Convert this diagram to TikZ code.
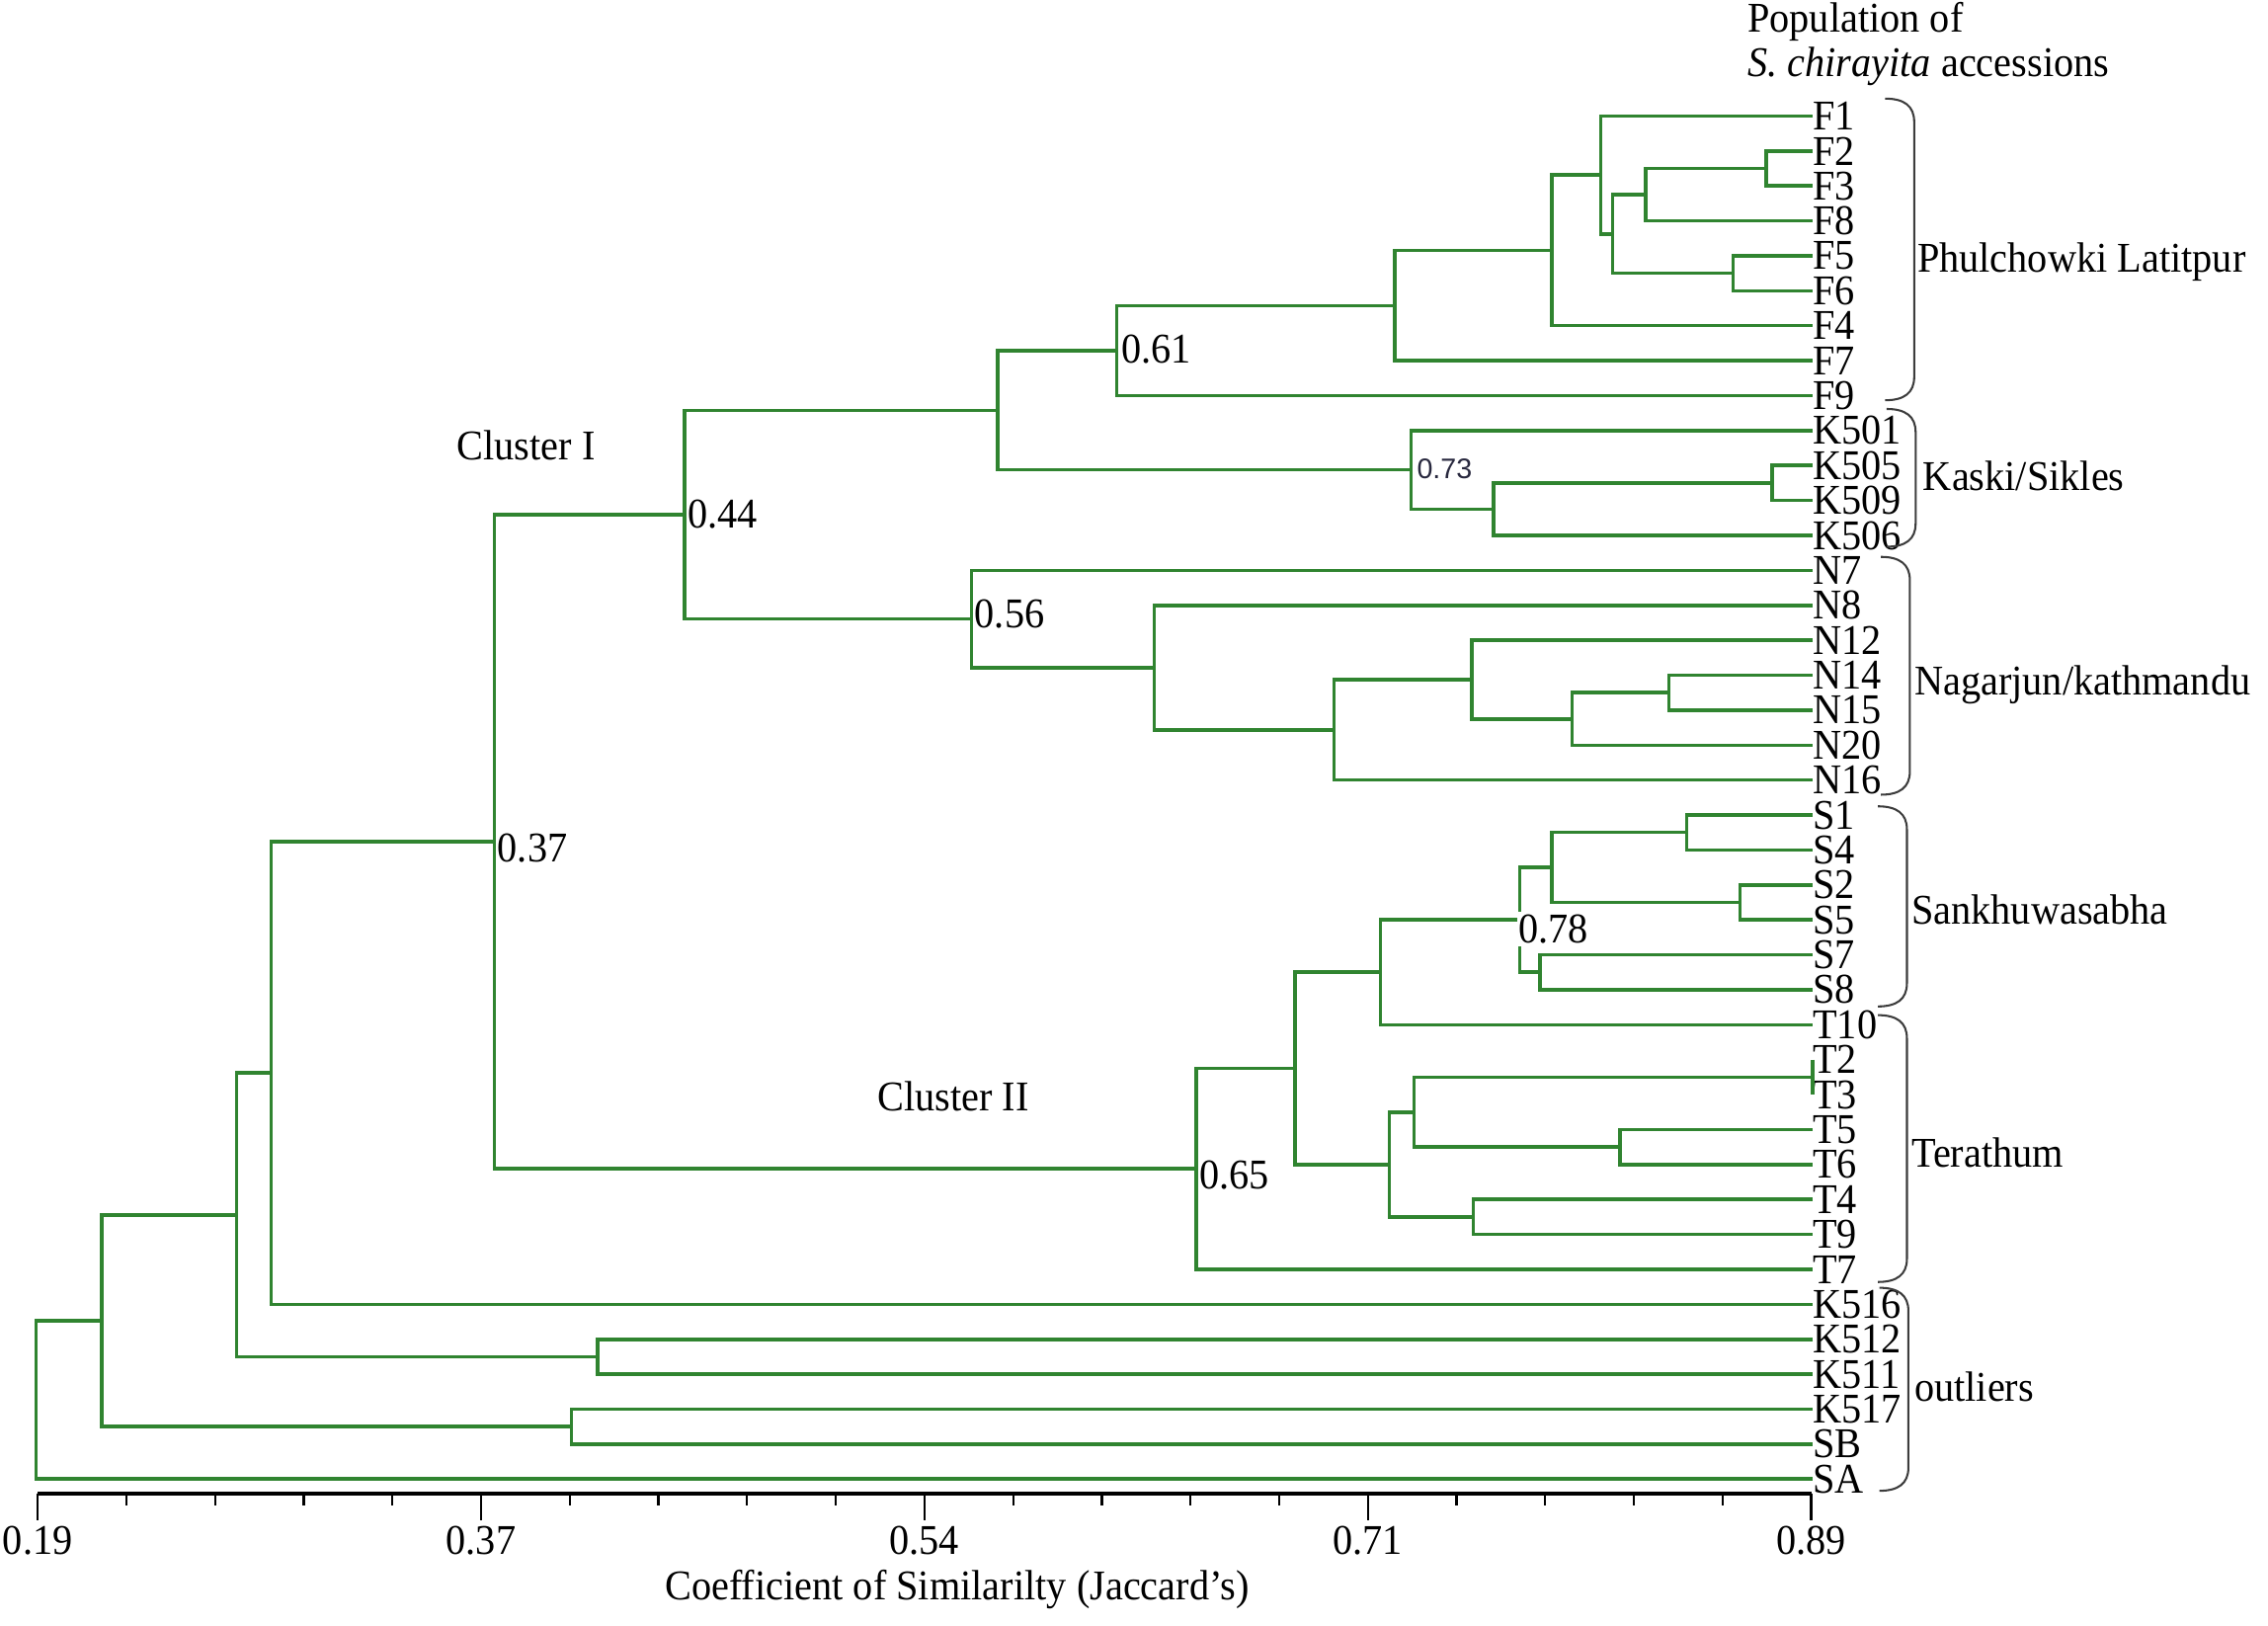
\documentclass[tikz,border=0pt]{standalone}
\usepackage{fontspec}
\setmainfont{Liberation Serif}[FakeStretch=0.94]
\newfontfamily\sansnum{Liberation Sans}
\definecolor{treegreen}{RGB}{48,132,48}
\definecolor{brkgray}{RGB}{60,60,60}
\definecolor{numc}{RGB}{40,40,62}
\newcommand\grpbrace[3]{%
  \draw[bracketline] (#1-20,#2) .. controls (#1-7,#2) and (#1,#2+5) .. (#1,#2+16)
    -- (#1,#3-16) .. controls (#1,#3-5) and (#1-7,#3) .. (#1-20,#3);}
\begin{document}
\begin{tikzpicture}[x=1pt,y=-1pt,
  branch/.style={draw=treegreen, line width=2.4pt},
  bracketline/.style={draw=brkgray, line width=1.4pt},
  lbl/.style={inner sep=0pt, font=\fontsize{29.2}{32}\selectfont},
  leaf/.style={lbl, anchor=west},
  val/.style={lbl, anchor=base west},
  axisline/.style={draw=black, line width=2.4pt},
  tickline/.style={draw=black, line width=1.5pt}]
\useasboundingbox (0,0) rectangle (1564,1121);

% leaves
\foreach \n [count=\i from 0] in {F1,F2,F3,F8,F5,F6,F4,F7,F9,K501,K505,K509,K506,N7,N8,N12,N14,N15,N20,N16,S1,S4,S2,S5,S7,S8,T10,T2,T3,T5,T6,T4,T9,T7,K516,K512,K511,K517,SB,SA}
  \node[leaf] (\n) at (1250,{80+24.1*\i}) {\n};

% internal nodes
\coordinate (jF23) at (1218,116.15);
\coordinate (jF238) at (1135,134.23);
\coordinate (jF56) at (1195,188.45);
\coordinate (jFa) at (1112,161.34);
\coordinate (jFb) at (1104,120.67);
\coordinate (jFc) at (1070,172.64);
\coordinate (jFd) at (962,210.67);
\coordinate (jFe) at (770,241.73);
\coordinate (jK59) at (1222,333.05);
\coordinate (jK596) at (1030,351.13);
\coordinate (jK73) at (973,324.01);
\coordinate (jFK) at (688,282.87);
\coordinate (jN1415) at (1151,477.65);
\coordinate (jN20) at (1084,495.73);
\coordinate (jN12) at (1015,468.61);
\coordinate (jN16) at (920,503.26);
\coordinate (jN8) at (796,460.33);
\coordinate (jN56) at (670,426.8);
\coordinate (jC1) at (472,354.84);
\coordinate (jS14) at (1163,574.05);
\coordinate (jS25) at (1200,622.25);
\coordinate (jS1425) at (1070,598.15);
\coordinate (jS78) at (1062,670.45);
\coordinate (jS078) at (1048,634.3);
\coordinate (jT10) at (952,670.45);
\coordinate (jT23) at (1250,742.75);
\coordinate (jT56) at (1117,790.95);
\coordinate (jT2356) at (975,766.85);
\coordinate (jT49) at (1016,839.15);
\coordinate (jTb) at (958,803);
\coordinate (jTc) at (893,736.73);
\coordinate (jC2) at (825,806.01);
\coordinate (jC037) at (341,580.43);
\coordinate (jJ186) at (187,739.9);
\coordinate (jK1211) at (412,935.55);
\coordinate (jJ163) at (163,837.7);
\coordinate (jK17) at (394,983.75);
\coordinate (jJ70) at (70,910.7);
\coordinate (jRoot) at (25,965.3);

% branches
\draw[branch] (F2.west) -| (jF23) |- (F3.west);
\draw[branch] (jF23) -| (jF238) |- (F8.west);
\draw[branch] (F5.west) -| (jF56) |- (F6.west);
\draw[branch] (jF238) -| (jFa) |- (jF56);
\draw[branch] (F1.west) -| (jFb) |- (jFa);
\draw[branch] (jFb) -| (jFc) |- (F4.west);
\draw[branch] (jFc) -| (jFd) |- (F7.west);
\draw[branch] (jFd) -| (jFe) |- (F9.west);
\draw[branch] (K505.west) -| (jK59) |- (K509.west);
\draw[branch] (jK59) -| (jK596) |- (K506.west);
\draw[branch] (K501.west) -| (jK73) |- (jK596);
\draw[branch] (jFe) -| (jFK) |- (jK73);
\draw[branch] (N14.west) -| (jN1415) |- (N15.west);
\draw[branch] (jN1415) -| (jN20) |- (N20.west);
\draw[branch] (N12.west) -| (jN12) |- (jN20);
\draw[branch] (jN12) -| (jN16) |- (N16.west);
\draw[branch] (N8.west) -| (jN8) |- (jN16);
\draw[branch] (N7.west) -| (jN56) |- (jN8);
\draw[branch] (jFK) -| (jC1) |- (jN56);
\draw[branch] (S1.west) -| (jS14) |- (S4.west);
\draw[branch] (S2.west) -| (jS25) |- (S5.west);
\draw[branch] (jS14) -| (jS1425) |- (jS25);
\draw[branch] (S7.west) -| (jS78) |- (S8.west);
\draw[branch] (jS1425) -| (jS078) |- (jS78);
\draw[branch] (jS078) -| (jT10) |- (T10.west);
\draw[branch] (T2.west) -| (jT23) |- (T3.west);
\draw[branch] (T5.west) -| (jT56) |- (T6.west);
\draw[branch] (jT23) -| (jT2356) |- (jT56);
\draw[branch] (T4.west) -| (jT49) |- (T9.west);
\draw[branch] (jT2356) -| (jTb) |- (jT49);
\draw[branch] (jT10) -| (jTc) |- (jTb);
\draw[branch] (jTc) -| (jC2) |- (T7.west);
\draw[branch] (jC1) -| (jC037) |- (jC2);
\draw[branch] (jC037) -| (jJ186) |- (K516.west);
\draw[branch] (K512.west) -| (jK1211) |- (K511.west);
\draw[branch] (jJ186) -| (jJ163) |- (jK1211);
\draw[branch] (K517.west) -| (jK17) |- (SB.west);
\draw[branch] (jJ163) -| (jJ70) |- (jK17);
\draw[branch] (jJ70) -| (jRoot) |- (SA.west);

% similarity values
\node[val] (v61) at (773,250) {0.61};
\node[val] (v44) at (474,364) {0.44};
\node[val] (v56) at (672,433) {0.56};
\node[val, fill=white, inner xsep=1pt, inner ysep=2pt] (v78) at (1046,650) {0.78};
\node[val] (v37) at (343,594) {0.37};
\node[val] (v65) at (827,820) {0.65};
\node[anchor=base west, inner sep=0pt, text=numc, font=\sansnum\fontsize{19.5}{22}\selectfont] (v73) at (977,330) {0.73};
\node[val] (cl1) at (315,317) {Cluster I};
\node[val] (cl2) at (605,766) {Cluster II};

% header
\node[val] (h1) at (1205,22) {Population of};
\node[val] (h2) at (1205,53) {\textit{S. chirayita} accessions};

% group brackets and names
\grpbrace{1320}{68}{276}
\grpbrace{1321}{282}{377}
\grpbrace{1317}{384}{548}
\grpbrace{1315}{556}{694}
\grpbrace{1315}{700}{884}
\grpbrace{1316}{888}{1028}
\node[val] (g1) at (1322,188) {Phulchowki Latitpur};
\node[val] (g2) at (1326,338) {Kaski/Sikles};
\node[val] (g3) at (1320,479) {Nagarjun/kathmandu};
\node[val] (g4) at (1318,637) {Sankhuwasabha};
\node[val] (g5) at (1318,805) {Terathum};
\node[val] (g6) at (1320,966) {outliers};

% axis
\draw[axisline] (26,1030) coordinate (ax0) -- (1249,1030) coordinate (ax1);
\foreach \i in {0,...,20}
  \draw[tickline] ({26+61.15*\i},1030) -- ({26+61.15*\i},1038);
\foreach \i in {0,5,...,20}
  \draw[tickline] ({26+61.15*\i},1030) -- ({26+61.15*\i},1048);
\foreach \v [count=\i from 0] in {0.19,0.37,0.54,0.71,0.89}
  \node[lbl, anchor=base] (t\i) at ({26+305.75*\i},1072) {\v};
\node[lbl, anchor=base] (axtitle) at (660,1103) {Coefficient of Similarilty (Jaccard’s)};
\end{tikzpicture}
\end{document}
